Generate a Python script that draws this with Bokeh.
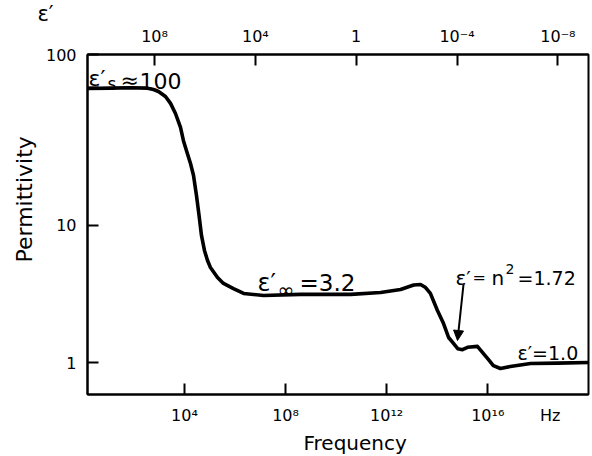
import math
from bokeh.plotting import figure
from bokeh.models import (Range1d, LogScale, LogAxis, FixedTicker, Label, Arrow, NormalHead, Title)
from bokeh.embed import file_html
from bokeh.resources import INLINE

# ---- data ----
freq_hz = [1.47, 11.9, 73.6, 347, 600, 944, 1.78e3, 2.82e3, 4.43e3, 7.0e3, 9.1e3, 1.2e4,
           1.74e4, 2.29e4, 3.0e4, 3.8e4, 4.73e4, 6.2e4, 8.2e4, 1.07e5, 2.04e5, 3.5e5,
           8.7e5, 2.2e6, 1.35e7, 3.9e8, 3.8e10, 5.75e11, 3.55e12, 1.17e13, 2.19e13,
           3.47e13, 5.37e13, 1.02e14, 1.78e14, 2.82e14, 4.07e14, 6.46e14, 1.0e15,
           1.58e15, 3.89e15, 6.76e15, 1.07e16, 1.66e16, 3.16e16, 7.76e16, 4.9e17,
           5.75e18, 9.8e19]
permittivity = [98.4, 99, 99.5, 98.9, 96.7, 93.5, 86.0, 76.6, 64.7, 51.2, 41.2, 34.8,
                28.0, 22.9, 16.4, 11.7, 8.4, 6.53, 5.52, 4.91, 4.15, 3.76,
                3.45, 3.18, 3.07, 3.13, 3.13, 3.23, 3.40, 3.66, 3.69,
                3.51, 3.18, 2.39, 1.92, 1.52, 1.40, 1.26, 1.24,
                1.29, 1.31, 1.16, 1.05, 0.95, 0.905, 0.935, 0.983,
                0.99, 1.0]

NB = "\u00a0"
freq_ticks = [1e4, 1e8, 1e12, 1e16]
freq_tick_labels = ["10⁴", "10⁸", "10¹²", NB * 11 + "10¹⁶" + NB * 7 + "Hz"]
wl_ticks = [1e8, 1e4, 1, 1e-4, 1e-8]
wl_tick_labels = ["10⁸", "10⁴", "1", "10⁻⁴", "10⁻⁸"]
perm_ticks = [1, 10, 100]
perm_tick_labels = ["1", "10", ""]

FONT = "DejaVu Sans"

# page-pixel -> data helpers (for annotation placement)
def fx(px):
    return 10 ** (10 + (px - 335.6) / 25.28)

def fy(py):
    return 10 ** ((362 - py) / 137.5)

def wx(px):
    return 10 ** ((355.7 - px) / 25.21)

p = figure(width=592, height=456, x_axis_type="log", y_axis_type="log",
           x_range=Range1d(fx(87), fx(588)), y_range=Range1d(fy(394), fy(54)),
           output_backend="svg", toolbar_location=None,
           min_border_left=87, min_border_right=4, min_border_top=54, min_border_bottom=62)
p.background_fill_color = "white"
p.border_fill_color = "white"
p.outline_line_color = "black"
p.outline_line_width = 2
p.xgrid.visible = False
p.ygrid.visible = False

bottom = p.below[0]
left = p.left[0]
p.extra_x_ranges = {"wl": Range1d(wx(87), wx(588))}
p.extra_x_scales = {"wl": LogScale()}
top = LogAxis(x_range_name="wl")
p.add_layout(top, "above")

def style_axis(ax, ticks, labels, standoff):
    ax.ticker = FixedTicker(ticks=ticks, minor_ticks=[])
    ax.major_label_overrides = {t: l for t, l in zip(ticks, labels)}
    ax.axis_line_width = 2
    ax.axis_line_color = "black"
    ax.major_tick_line_width = 2
    ax.major_tick_in = 11
    ax.major_tick_out = 0
    ax.minor_tick_in = 0
    ax.minor_tick_out = 0
    ax.major_label_text_font = FONT
    ax.major_label_text_font_size = "16px"
    ax.major_label_text_color = "black"
    ax.major_label_standoff = standoff

style_axis(bottom, freq_ticks, freq_tick_labels, 11)
style_axis(top, wl_ticks, wl_tick_labels, 9)
style_axis(left, perm_ticks + [fy(54)], perm_tick_labels + ["100"], 11)

p.line(freq_hz, permittivity, line_width=3.6, line_color="black", line_join="round")

# titles placed in the side panels (not clipped)
p.add_layout(Title(text="ε′", align="left", offset=-50, standoff=-4, text_line_height=0.7,
                   text_font=FONT, text_font_size="21px", text_font_style="normal",
                   text_color="black"), "above")
p.add_layout(Title(text="Frequency", align="left", offset=216, standoff=2,
                   text_font=FONT, text_font_size="20px", text_font_style="normal",
                   text_color="black"), "below")
p.add_layout(Title(text="Permittivity", align="left", offset=132, standoff=12,
                   text_font=FONT, text_font_size="22px", text_font_style="normal",
                   text_color="black"), "left")

def put(text, px, py, size, align="left", baseline="alphabetic"):
    p.add_layout(Label(x=fx(px), y=fy(py), text=text, text_font=FONT,
                       text_font_size=f"{size}px", text_align=align,
                       text_baseline=baseline, text_color="black"))

# annotations
put("ε′", 88, 78, 22)
put("s", 107, 83, 17)
put("≈", 120, 80, 22)
put("100", 139, 80, 22)

put("ε′", 257, 282, 24)
put("∞", 277, 289, 20)
put("=3.2", 299, 282, 23)

put("ε′", 455, 277, 20)
put("=", 472, 277, 16)
put("n", 491, 277, 20)
put("2", 505, 268, 14)
put("=1.72", 517, 277, 19)

put("ε′=1.0", 517, 352, 19)

p.add_layout(Arrow(x_start=fx(463), y_start=fy(284), x_end=fx(457), y_end=fy(340),
                   line_width=2, line_color="black",
                   end=NormalHead(size=10, fill_color="black", line_color="black")))

open("out.html", "w").write(file_html(p, INLINE))
